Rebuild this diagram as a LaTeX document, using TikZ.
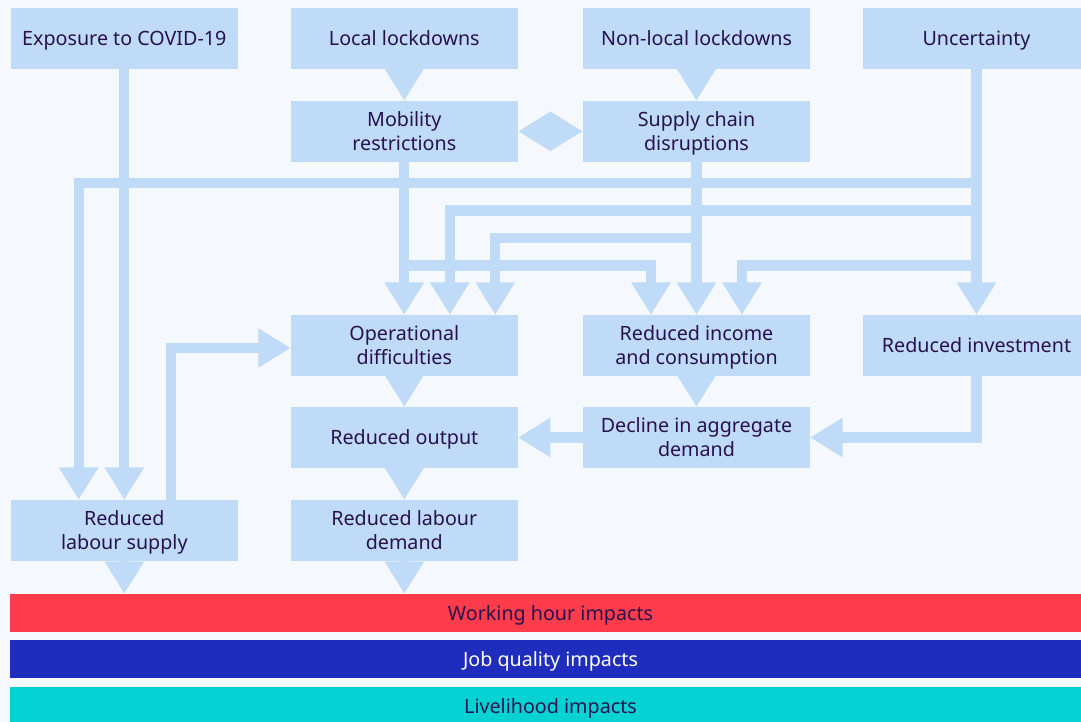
\documentclass[tikz,border=0pt]{standalone}
\usepackage{fontspec}
\setmainfont{Noto Sans}
\usepackage{tikz}
\usetikzlibrary{positioning}
\usetikzlibrary{arrows.meta}
\definecolor{bgcol}{HTML}{F5F9FD}
\definecolor{boxblue}{HTML}{BFDBF7}
\definecolor{inktext}{HTML}{27124F}
\definecolor{hourred}{HTML}{FF3C4B}
\definecolor{qualblue}{HTML}{1F2DBE}
\definecolor{livecyan}{HTML}{05D3D3}

\begin{document}
\begin{tikzpicture}[x=1pt,y=-1pt,
	box/.style={rectangle,fill=boxblue,text=inktext,minimum width=227pt,minimum height=60.7pt,inner sep=0pt,align=center,text depth=0pt,font=\fontsize{19.7}{24}\selectfont},
	bar/.style={rectangle,minimum width=1081pt,minimum height=37.7pt,inner sep=0pt,text depth=0pt,font=\fontsize{19.7}{24}\selectfont},
	flow/.style={draw=boxblue,line width=10.3pt,-{Triangle[width=37.3pt,length=32.3pt]}},
	twoway/.style={draw=boxblue,line width=10.3pt,{Triangle[width=37.3pt,length=32.6pt]}-{Triangle[width=37.3pt,length=32.6pt]}}]
				\path[use as bounding box,fill=bgcol] (0,0) rectangle (1081,722);
				\clip (0,0) rectangle (1081,722);

				%Nodes
				\node[box] (expo) 	  at (124.3,38.3)  {Exposure to COVID-19};
				\node[box] (local) 	  at (404.3,38.3)  {Local lockdowns};
				\node[box] (nonlocal) at (696.5,38.3)  {Non-local lockdowns};
				\node[box] (unc) 	  at (976.5,38.3)  {Uncertainty};
				\node[box] (mob) 	  at (404.3,131.3) {Mobility\\restrictions};
				\node[box] (sup) 	  at (696.5,131.3) {Supply chain\\disruptions};
				\node[box] (opd) 	  at (404.3,345.3) {Operational\\difficulties};
				\node[box] (inc) 	  at (696.5,345.3) {Reduced income\\and consumption};
				\node[box] (inv) 	  at (976.5,345.3) {Reduced investment};
				\node[box] (out) 	  at (404.3,437.5) {Reduced output};
				\node[box] (dec) 	  at (696.5,437.5) {Decline in aggregate\\demand};
				\node[box] (lsup) 	  at (124.3,530.3) {Reduced\\labour supply};
				\node[box] (ldem) 	  at (404.3,530.3) {Reduced labour\\demand};
				\node[bar,fill=hourred,text=inktext] (hours) 	at (550.5,612.85) {Working hour impacts};
				\node[bar,fill=qualblue,text=white] (quality) 	at (550.5,658.85) {Job quality impacts};
				\node[bar,fill=livecyan,text=inktext] (liveli) 	at (550.5,705.85) {Livelihood impacts};
				\coordinate      (n1) 	at 	(78.7,183);
				\coordinate      (n2) 	at 	(449.8,210.5);
				\coordinate      (n3) 	at 	(495.3,238);
				\coordinate      (n4) 	at 	(651,265.5);
				\coordinate      (n5) 	at 	(742,265.5);
				\coordinate      (n6) 	at 	(170.8,348);

				%Lines
				\draw[flow] (local) -- (mob);
				\draw[flow] (nonlocal) -- (sup);
				\draw[twoway] (mob) -- (sup);
				\draw[flow] (expo) -- (lsup);
				\draw[flow] (unc) -- (inv);
				\draw[flow] (unc.south) |- (n1) -- (n1 |- lsup.north);
				\draw[flow] (unc.south) |- (n2) -- (n2 |- opd.north);
				\draw[flow] (unc.south) |- (n5) -- (n5 |- inc.north);
				\draw[flow] (mob) -- (opd);
				\draw[flow] (mob.south) |- (n4) -- (n4 |- inc.north);
				\draw[flow] (sup) -- (inc);
				\draw[flow] (sup.south) |- (n3) -- (n3 |- opd.north);
				\draw[flow] (opd) -- (out);
				\draw[flow] (inc) -- (dec);
				\draw[flow] (dec) -- (out);
				\draw[flow] (inv.south) |- (dec.east);
				\draw[flow] (out) -- (ldem);
				\draw[flow] (lsup.north -| n6) -- (n6) -- (n6 -| opd.west);
				\draw[flow] (lsup.south) -- (lsup.south |- hours.north);
				\draw[flow] (ldem.south) -- (ldem.south |- hours.north);

\end{tikzpicture}
\end{document}
